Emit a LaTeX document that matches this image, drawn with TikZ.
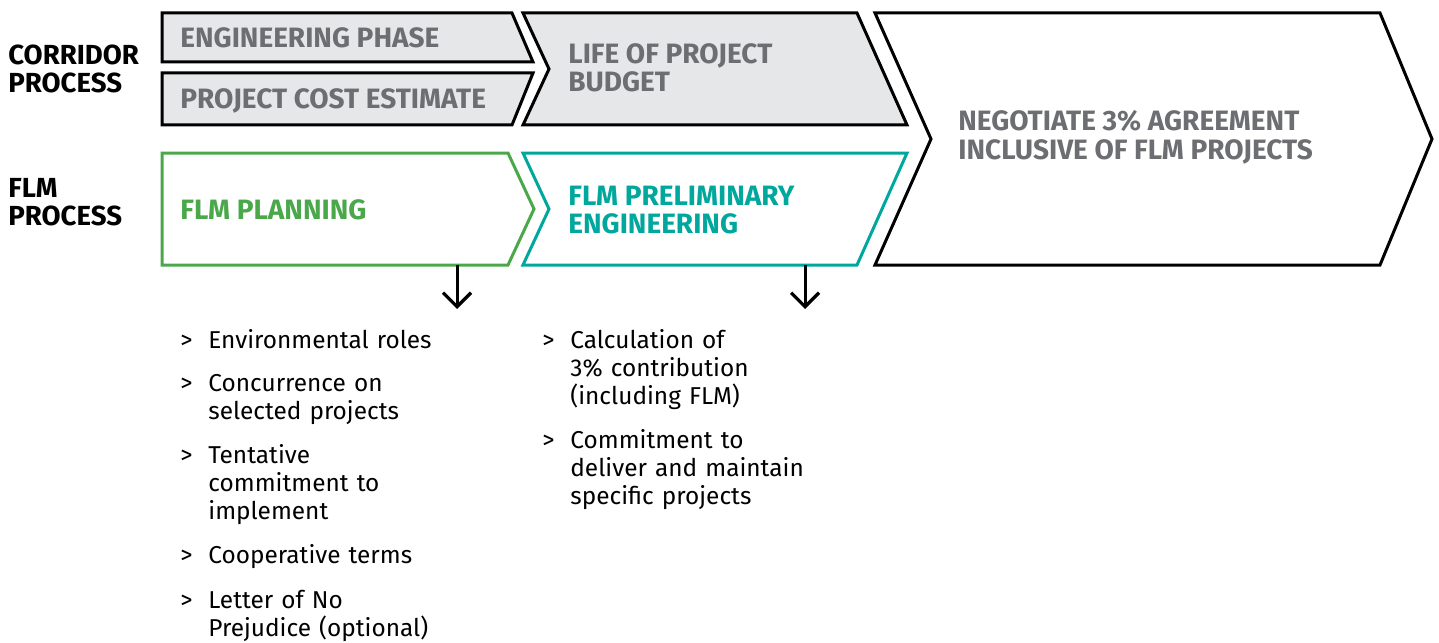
\documentclass[tikz,border=0pt]{standalone}
\usepackage{fontspec}
\setmainfont{Fira Sans}
\usetikzlibrary{arrows.meta,positioning,calc}
\definecolor{boxgray}{HTML}{E6E7E8}
\definecolor{textgray}{HTML}{6D6E71}
\definecolor{flmgreen}{HTML}{4AA84A}
\definecolor{flmteal}{HTML}{00A79D}
\tikzset{
	phase/.style={
		draw=black,
		line width=1.5pt,
		fill=boxgray,
	},
	openphase/.style={phase, fill=white},
	planphase/.style={phase, draw=flmgreen, fill=white},
	engphase/.style={phase, draw=flmteal, fill=white},
	% base of a multi-line title is the baseline of its last line
	title/.style={
		anchor=base west,
		inner sep=0pt,
		text=textgray,
		font=\fontsize{14}{14}\selectfont\bfseries,
		align=left,
	},
	rowlabel/.style={title, text=black, font=\fontsize{13.8}{14}\selectfont\bfseries},
	item/.style={
		anchor=base west,
		inner sep=0pt,
		text width=130pt,
		font=\fontsize{12.2}{14.2}\selectfont,
		align=left,
	},
	bulletmark/.style={item, text width=10pt},
	down/.style={line width=1.5pt, -{Straight Barb[length=7pt,width=14pt,line width=1.6pt]}},
}

\begin{document}
\begin{tikzpicture}[x=0.5pt,y=-0.5pt]
	\useasboundingbox (0,0) rectangle (1439,642);

	% row labels on the left
	\node[rowlabel] (CORRIDOR) at (8,93) {CORRIDOR\\PROCESS};
	\node[rowlabel] (FLMROW) at (8,225) {FLM\\PROCESS};

	% corridor process shapes (gray)
	\draw[phase] (162,13) -- (512,13) -- (533,62) -- (162,62) -- cycle;
	\draw[phase] (162,73) -- (533,73) -- (512,125) -- (162,125) -- cycle;
	\draw[phase] (523,13) -- (857,13) -- (907,125) -- (523,125) -- (549,69) -- cycle;
	\draw[openphase] (875,13) -- (1380,13) -- (1432,139) -- (1380,265) -- (875,265) -- (931,139) -- cycle;

	% FLM process shapes
	\draw[planphase] (162,153) -- (508,153) -- (534,209) -- (508,265) -- (162,265) -- cycle;
	\draw[engphase] (523,153) -- (907,153) -- (857,265) -- (523,265) -- (549,209) -- cycle;

	% texts inside the shapes
	\node[title] (ENGPHASE) at (180,48) {ENGINEERING PHASE};
	\node[title] (COST) at (180,109) {PROJECT COST ESTIMATE};
	\node[title] (BUDGET) at (568,92) {LIFE OF PROJECT\\BUDGET};
	\node[title] (NEGOTIATE) at (958,159) {NEGOTIATE 3\% AGREEMENT\\INCLUSIVE OF FLM PROJECTS};
	\node[title, text=flmgreen] (PLANNING) at (180,219) {FLM PLANNING};
	\node[title, text=flmteal] (PRELIM) at (568,233) {FLM PRELIMINARY\\ENGINEERING};

	% arrows down to the lists
	\coordinate (PLANOUT) at (457,265);
	\coordinate (PLANLIST) at (457,309);
	\coordinate (PRELIMOUT) at (805,265);
	\coordinate (PRELIMLIST) at (805,309);
	\draw[down] (PLANOUT) -- (PLANLIST);
	\draw[down] (PRELIMOUT) -- (PRELIMLIST);

	% list under FLM PLANNING
	\foreach \y/\txt [count=\i] in {348/{Environmental roles},
		391/{Concurrence on\\selected projects},
		463/{Tentative\\commitment to\\implement},
		563/{Cooperative terms},
		608/{Letter of No\\Prejudice (optional)}}
	{
		\node[bulletmark] (PLANMARK\i) at (180,\y) {>};
		\node[item] (PLANITEM\i) at (208,\y) {\txt};
	}

	% list under FLM PRELIMINARY ENGINEERING
	\foreach \y/\txt [count=\i] in {348/{Calculation of\\3\% contribution\\(including FLM)},
		448/{Commitment to\\deliver and maintain\\specific projects}}
	{
		\node[bulletmark] (PRELIMMARK\i) at (542,\y) {>};
		\node[item] (PRELIMITEM\i) at (570,\y) {\txt};
	}

\end{tikzpicture}
\end{document}
